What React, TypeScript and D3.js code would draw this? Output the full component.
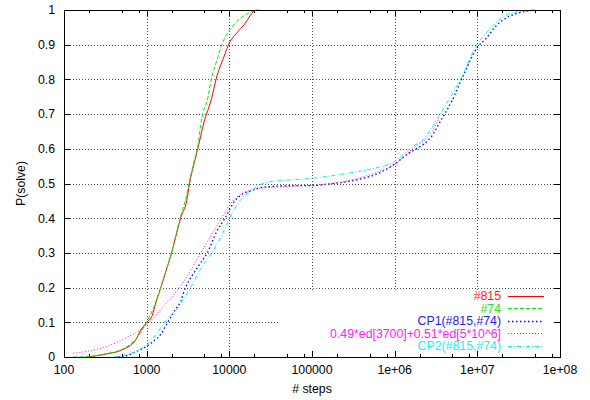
import React from "react";
import * as d3 from "d3";

// ---- data (steps, P(solve)) ----
const s815: [number, number][] = [
  [200, 0], [330, 0.009], [500, 0.02], [740, 0.05], [830, 0.073], [1000, 0.1], [1150, 0.116],
  [1320, 0.164], [1590, 0.222], [1830, 0.27], [2000, 0.3], [2300, 0.356], [2570, 0.4],
  [3060, 0.452], [3300, 0.5], [3840, 0.568], [4150, 0.6], [5100, 0.688], [5300, 0.7],
  [6100, 0.745], [6900, 0.8], [8600, 0.865], [10000, 0.905], [12200, 0.933], [15400, 0.96],
  [19500, 0.995], [22000, 1.0],
];
const s74: [number, number][] = [
  [130, 0], [210, 0.002], [330, 0.01], [500, 0.022], [740, 0.052], [1000, 0.1], [1320, 0.165],
  [1590, 0.225], [2000, 0.3], [2570, 0.405], [3000, 0.46], [3250, 0.5], [3800, 0.57],
  [4100, 0.6], [4640, 0.688], [4750, 0.7], [5420, 0.74], [6050, 0.8], [7300, 0.865],
  [8100, 0.9], [9240, 0.928], [10000, 0.94], [12200, 0.966], [16200, 0.988], [20300, 0.998],
  [25000, 1.0],
];
const cp1: [number, number][] = [
  [450, 0], [600, 0.005], [740, 0.015], [980, 0.03], [1200, 0.045], [1480, 0.065], [1800, 0.1],
  [2200, 0.135], [2570, 0.16], [2950, 0.2], [3560, 0.235], [4400, 0.268], [5400, 0.3],
  [7000, 0.36], [8850, 0.4], [11700, 0.45], [14000, 0.468], [17700, 0.478], [22000, 0.486],
  [30900, 0.491], [68000, 0.494], [100000, 0.494], [165000, 0.499], [260000, 0.505],
  [418000, 0.515], [650000, 0.53], [1000000, 0.556], [1480000, 0.587], [2000000, 0.605],
  [2700000, 0.631], [3670000, 0.684], [4900000, 0.737], [6700000, 0.809], [10000000, 0.892],
  [12900000, 0.919], [17000000, 0.955], [23000000, 0.979], [30000000, 0.99], [40000000, 0.997],
  [50000000, 1.0],
];
const fit: [number, number][] = [
  [130, 0.011], [250, 0.022], [530, 0.052], [850, 0.08], [1070, 0.1], [1400, 0.13],
  [1800, 0.16], [2500, 0.2], [3300, 0.245], [4500, 0.3], [6000, 0.35], [8000, 0.4],
  [11000, 0.45], [14000, 0.47], [18000, 0.48], [25000, 0.487], [40000, 0.49], [100000, 0.495],
  [264000, 0.507], [500000, 0.525], [1000000, 0.556], [1700000, 0.603], [2700000, 0.643],
  [3400000, 0.685],
];
const cp2: [number, number][] = [
  [400, 0], [600, 0.008], [800, 0.02], [1000, 0.035], [1200, 0.055], [1650, 0.1],
  [2530, 0.15], [3400, 0.2], [4400, 0.25], [6100, 0.3], [7700, 0.34], [10100, 0.4],
  [13400, 0.45], [18700, 0.48], [23400, 0.496], [30900, 0.505], [41000, 0.508],
  [100000, 0.515], [264000, 0.529], [505000, 0.541], [1000000, 0.564], [1480000, 0.597],
  [1690000, 0.608], [2220000, 0.626], [2800000, 0.66], [3520000, 0.698], [4640000, 0.746],
  [6390000, 0.804], [10000000, 0.902], [12900000, 0.934], [17000000, 0.965],
  [23000000, 0.986], [30000000, 0.994], [45000000, 0.999], [50000000, 1.0],
];

const seriesNames = ["#815", "#74", "CP1(#815,#74)", "0.49*ed[3700]+0.51*ed[5*10^6]", "CP2(#815,#74)"];
const seriesColors = ["#ff0000", "#00ee00", "#0000ff", "#ff00ff", "#00eeee"];
const textColors = ["#ff2020", "#20e020", "#2020ff", "#ff20ff", "#20f0f0"];
const seriesDash = ["", "4,2", "1.5,2.5", "1,2", "4,2,1,2"];
const seriesData = [s815, s74, cp1, fit, cp2];

const xTickValues = [100, 1000, 10000, 100000, 1e6, 1e7, 1e8];
const xTickLabels = ["100", "1000", "10000", "100000", "1e+06", "1e+07", "1e+08"];
const yTickValues = [0, 0.1, 0.2, 0.3, 0.4, 0.5, 0.6, 0.7, 0.8, 0.9, 1];
const yTickLabels = ["0", "0.1", "0.2", "0.3", "0.4", "0.5", "0.6", "0.7", "0.8", "0.9", "1"];
const minorMultipliers = [2, 5, 8];

const W = 590, H = 400;
const L = 64, R = 560, T = 10, B = 357;
const FONT = "'Liberation Sans', Arial, Helvetica, sans-serif";

export default function App() {
  const x = d3.scaleLog().domain([100, 1e8]).range([L, R]);
  const y = d3.scaleLinear().domain([0, 1]).range([B, T]);
  const line = d3
    .line<[number, number]>()
    .x((d) => x(d[0]))
    .y((d) => y(d[1]))
    .curve(d3.curveMonotoneX);

  const minorTicks: number[] = [];
  for (let i = 0; i < xTickValues.length - 1; i++) {
    for (const m of minorMultipliers) minorTicks.push(xTickValues[i] * m);
  }
  const gridStyle = { stroke: "#555", strokeWidth: 1, strokeDasharray: "1,2" };

  // legend geometry
  const legTextX = 501;
  const legLineX1 = 508, legLineX2 = 544;
  const legY0 = 296, legDy = 12.4;

  return (
    <svg
      width={W}
      height={H}
      style={{ position: "absolute", left: 0, top: 0, background: "#fff" }}
      fontFamily={FONT}
    >
      <rect x={0} y={0} width={W} height={H} fill="#fff" />
      {/* grid */}
      <g>
        {yTickValues.slice(1, -1).map((v) => (
          <line key={"gy" + v} x1={L} x2={R} y1={Math.round(y(v)) + 0.5} y2={Math.round(y(v)) + 0.5} {...gridStyle} />
        ))}
        {xTickValues.slice(1, -1).map((v) => (
          <line key={"gx" + v} x1={Math.round(x(v)) + 0.5} x2={Math.round(x(v)) + 0.5} y1={T} y2={B} {...gridStyle} />
        ))}
      </g>
      {/* key background clears grid */}
      <rect x={278.5} y={290} width={R - 279} height={B - 290} fill="#fff" />
      {/* ticks */}
      <g stroke="#000" strokeWidth={1}>
        {xTickValues.map((v) => {
          const px = Math.round(x(v)) + 0.5;
          return (
            <g key={"tx" + v}>
              <line x1={px} x2={px} y1={B} y2={B - 6} />
              <line x1={px} x2={px} y1={T} y2={T + 6} />
            </g>
          );
        })}
        {minorTicks.map((v) => {
          const px = Math.round(x(v)) + 0.5;
          return (
            <g key={"mx" + v}>
              <line x1={px} x2={px} y1={B} y2={B - 3} />
              <line x1={px} x2={px} y1={T} y2={T + 3} />
            </g>
          );
        })}
        {yTickValues.map((v) => {
          const py = Math.round(y(v)) + 0.5;
          return (
            <g key={"ty" + v}>
              <line x1={L} x2={L + 6} y1={py} y2={py} />
              <line x1={R} x2={R - 6} y1={py} y2={py} />
            </g>
          );
        })}
      </g>
      {/* series */}
      <g fill="none">
        {seriesData.map((d, i) => (
          <path
            key={"s" + i}
            d={line(d) || ""}
            stroke={seriesColors[i]}
            strokeWidth={i === 2 ? 1.3 : 1}
            strokeDasharray={seriesDash[i] || undefined}
          />
        ))}
      </g>
      {/* border */}
      <rect x={L + 0.5} y={T + 0.5} width={R - L} height={B - T} fill="none" stroke="#000" strokeWidth={1} />
      {/* tick labels */}
      <g fontSize={12.3} fill="#000">
        {yTickValues.map((v, i) => (
          <text key={"yl" + v} x={55} y={y(v)} dy="0.35em" textAnchor="end">
            {yTickLabels[i]}
          </text>
        ))}
        {xTickValues.map((v, i) => (
          <text key={"xl" + v} x={x(v)} y={374} textAnchor="middle">
            {xTickLabels[i]}
          </text>
        ))}
        <text x={(L + R) / 2} y={393} textAnchor="middle">
          # steps
        </text>
        <text transform={`translate(25,${(T + B) / 2}) rotate(-90)`} textAnchor="middle">
          P(solve)
        </text>
      </g>
      {/* legend */}
      <g fontSize={12.3}>
        {seriesNames.map((n, i) => {
          const yy = legY0 + legDy * i;
          return (
            <g key={"lg" + i}>
              <text x={legTextX} y={yy} dy="0.35em" textAnchor="end" fill={textColors[i]}>
                {n}
              </text>
              <line
                x1={legLineX1}
                x2={legLineX2}
                y1={Math.round(yy) + 0.5}
                y2={Math.round(yy) + 0.5}
                stroke={seriesColors[i]}
                strokeWidth={i === 2 ? 1.3 : 1}
                strokeDasharray={seriesDash[i] || undefined}
              />
            </g>
          );
        })}
      </g>
    </svg>
  );
}
